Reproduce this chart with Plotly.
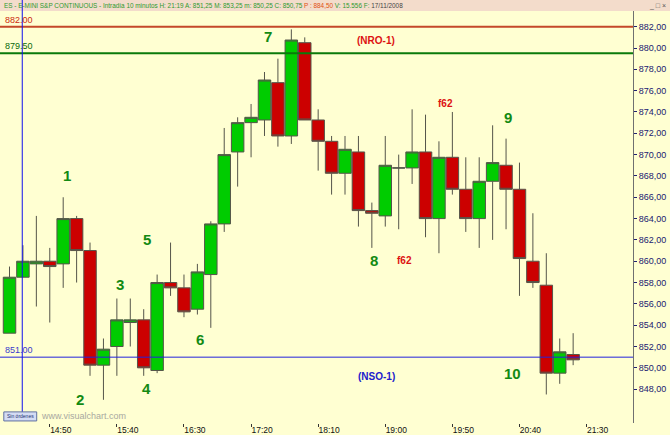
import plotly.graph_objects as go
import pandas as pd

# ---- data ----
times = pd.date_range("2008-11-17 14:20", periods=43, freq="10min")
opens = [853.25, 858.5, 859.75, 860.0, 859.75, 864.0, 861.0, 850.25, 852.0, 854.25,
         854.5, 849.75, 858.0, 857.5, 855.5, 858.75, 863.5, 870.25, 873.0, 873.25,
         876.75, 871.75, 880.5, 873.25, 871.25, 868.25, 870.25, 864.75, 864.25, 868.75,
         868.75, 870.25, 864.0, 869.75, 866.75, 864.0, 867.5, 869.0, 866.75, 860.0,
         857.75, 849.5, 851.25]
highs = [859.5, 861.5, 864.25, 861.25, 866.0, 864.25, 861.75, 852.75, 856.5, 856.5,
         855.5, 858.75, 861.75, 858.75, 859.75, 863.75, 872.5, 873.5, 874.75, 877.75,
         879.0, 881.75, 881.0, 874.25, 871.75, 871.75, 871.75, 865.5, 871.75, 870.0,
         874.25, 873.75, 871.25, 874.0, 869.75, 869.75, 872.75, 871.5, 869.25, 864.5,
         860.75, 852.75, 853.25]
lows = [853.25, 858.5, 855.75, 854.25, 857.5, 858.0, 849.25, 847.0, 849.25, 852.0,
        849.25, 849.5, 856.75, 854.75, 855.0, 853.75, 862.75, 867.0, 869.75, 871.75,
        870.75, 871.0, 873.25, 868.5, 866.25, 866.25, 863.25, 861.25, 863.25, 863.0,
        867.25, 862.25, 860.75, 866.25, 862.75, 861.25, 862.0, 863.0, 856.75, 857.5,
        847.5, 848.5, 850.25]
closes = [858.5, 860.0, 860.0, 859.5, 864.0, 861.0, 850.25, 851.75, 854.5, 854.5,
          850.0, 858.0, 857.5, 855.25, 859.0, 863.5, 870.0, 873.0, 873.5, 877.0,
          871.75, 880.75, 873.25, 871.25, 868.25, 870.5, 864.75, 864.5, 869.0, 868.75,
          870.25, 864.0, 869.75, 866.75, 864.0, 867.5, 869.25, 866.75, 860.25, 858.0,
          849.5, 851.5, 850.75]

price_ticks = [848, 850, 852, 854, 856, 858, 860, 862, 864, 866, 868, 870, 872, 874,
               876, 878, 880, 882]

level_values = [882.0, 879.5, 851.0]
level_labels = ["882.00", "879.50", "851.00"]
wave_labels = ["1", "2", "3", "4", "5", "6", "7", "8", "9", "10"]
wave_times = ["2008-11-17 15:02:50", "2008-11-17 15:12:30", "2008-11-17 15:42:20",
              "2008-11-17 16:02:10", "2008-11-17 16:02:10", "2008-11-17 16:42:00",
              "2008-11-17 17:32:20", "2008-11-17 18:51:50", "2008-11-17 20:31:40",
              "2008-11-17 20:35:00"]
wave_prices = [868.0, 847.0, 857.8, 848.1, 862.05, 852.7, 881.06, 860.05, 873.5, 849.5]

cursor_time = "2008-11-17 14:29:30"
header = ("ES - E-MINI S&P CONTINUOUS - Intradía 10 minutos H: 21:19 A: 851,25 "
          "M: 853,25 m: 850,25 C: 850,75 ")

GREEN_TXT = "#138a13"
RED_TXT = "#dd1111"

fig = go.Figure()
fig.add_trace(go.Candlestick(
    x=times, open=opens, high=highs, low=lows, close=closes,
    increasing=dict(fillcolor="#00cc00", line=dict(color="#55554a", width=1)),
    decreasing=dict(fillcolor="#cc0000", line=dict(color="#55554a", width=1)),
    whiskerwidth=0, showlegend=False, hoverinfo="skip"))

shapes = [
    # header bar
    dict(type="rect", xref="paper", yref="paper", x0=-0.01, x1=1.07, y0=1.0, y1=1.04,
         fillcolor="#f3dccb", line=dict(width=0), layer="below"),
    dict(type="line", xref="paper", yref="y", x0=0, x1=1, y0=level_values[0], y1=level_values[0],
         line=dict(color="#c4482a", width=2)),
    dict(type="line", xref="paper", yref="y", x0=0, x1=1, y0=level_values[1], y1=level_values[1],
         line=dict(color="#0a7a0a", width=2)),
    dict(type="line", xref="paper", yref="y", x0=0, x1=1, y0=level_values[2], y1=level_values[2],
         line=dict(color="#2222dd", width=1)),
    dict(type="line", xref="x", yref="paper", x0=cursor_time, x1=cursor_time, y0=0.027, y1=1.03,
         line=dict(color="#1010ee", width=1)),
    # "Sin ordenes" box
    dict(type="rect", xref="paper", yref="paper", x0=0.006, x1=0.058, y0=0.005, y1=0.027,
         fillcolor="#d4dcf4", line=dict(color="#6070a0", width=1)),
]

annotations = []
level_colors = ["#cc2a10", "#0a6a0a", "#3a3acc"]
for v, lab, col in zip(level_values, level_labels, level_colors):
    annotations.append(dict(xref="paper", yref="y", x=0.004, y=v, text=lab, showarrow=False,
                            xanchor="left", yanchor="bottom", yshift=0,
                            font=dict(family="Arial", size=9, color=col)))
for t, p, lab in zip(wave_times, wave_prices, wave_labels):
    annotations.append(dict(x=t, y=p, text="<b>%s</b>" % lab, showarrow=False,
                            font=dict(family="Arial", size=15, color=GREEN_TXT)))
annotations += [
    dict(x="2008-11-17 18:53:06", y=880.7, text="<b>(NRO-1)</b>", showarrow=False,
         font=dict(family="Arial", size=10, color=RED_TXT)),
    dict(x="2008-11-17 18:53:06", y=849.15, text="<b>(NSO-1)</b>", showarrow=False,
         font=dict(family="Arial", size=10, color="#2020cc")),
    dict(x="2008-11-17 19:14:40", y=860.05, text="<b>f62</b>", showarrow=False,
         font=dict(family="Arial", size=10, color=RED_TXT)),
    dict(x="2008-11-17 19:45:00", y=874.75, text="<b>f62</b>", showarrow=False,
         font=dict(family="Arial", size=10, color=RED_TXT)),
    dict(xref="paper", yref="paper", x=0.003, y=1.013, xanchor="left", yanchor="middle",
         showarrow=False, font=dict(family="Arial", size=6.4, color="#2e9a2e"),
         text=header + "<span style='color:#e05010'>P : 884,50</span> V: 15.556 F: "
              "<span style='color:#444444'>17/11/2008</span>"),
    dict(xref="paper", yref="paper", x=1.055, y=1.013, xanchor="right", yanchor="middle",
         showarrow=False, font=dict(family="Arial", size=7, color="#555555"), text="_ □ ×"),
    dict(xref="paper", yref="paper", x=0.032, y=0.016, xanchor="center", yanchor="middle",
         showarrow=False, font=dict(family="Arial", size=5, color="#203070"), text="Sin órdenes"),
    dict(xref="paper", yref="paper", x=0.062, y=0.016, xanchor="left", yanchor="middle",
         showarrow=False, font=dict(family="Arial", size=9, color="#a8a8a0"), text="www.visualchart.com"),
]

fig.update_layout(
    width=670, height=435,
    margin=dict(l=0, r=37, t=11, b=12, pad=0),
    paper_bgcolor="#ffffd2", plot_bgcolor="#ffffd2",
    separators=",.",
    shapes=shapes, annotations=annotations,
    showlegend=False, boxgap=0.07, boxgroupgap=0,
    xaxis=dict(type="date", range=["2008-11-17 14:12:55", "2008-11-17 22:04:36"],
               rangeslider=dict(visible=False), showgrid=False, zeroline=False,
               tick0="2008-11-17 14:00", dtick=50 * 60 * 1000, tickformat="%H:%M",
               ticks="outside", ticklen=3, tickcolor="#333333", showline=False,
               ticklabelshift=11, ticklabelstandoff=-4,
               automargin=False,
               tickfont=dict(family="Arial", size=8.5, color="#111111")),
    yaxis=dict(side="right", range=[844.824, 883.473], tickvals=price_ticks, tickformat=".2f",
               showgrid=False, zeroline=False, ticks="outside", ticklen=3,
               tickcolor="#202070", showline=True, linecolor="#707070", linewidth=1,
               automargin=False,
               tickfont=dict(family="Arial", size=9, color="#202070")),
)

fig.write_html("out.html", config={"displayModeBar": False},
               post_script="document.body.style.margin='0';document.body.style.padding='0';")
